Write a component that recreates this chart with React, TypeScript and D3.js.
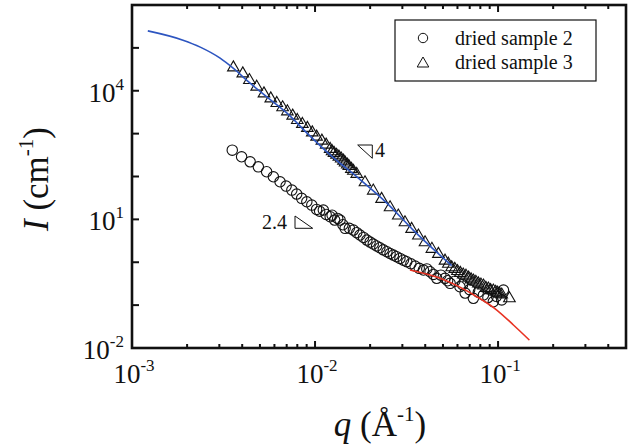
import React from 'react';
import * as d3 from 'd3';

// dried sample 2 (circles)
const sample2Q = [0.00353, 0.00397, 0.00442, 0.0049, 0.00544, 0.00592, 0.00644, 0.00695, 0.00747, 0.00794,
  0.00845, 0.00902, 0.0096, 0.0102, 0.0106, 0.0111, 0.0115,
  0.0121, 0.0124, 0.0128, 0.0133, 0.0137, 0.0142, 0.0146, 0.0154, 0.0162, 0.0169,
  0.0176, 0.0184, 0.0192, 0.02, 0.0208, 0.0217, 0.0226, 0.0236, 0.0247, 0.0257,
  0.0268, 0.0279, 0.0291, 0.0304, 0.0317, 0.0334, 0.0352, 0.0371, 0.0391, 0.0408,
  0.0425, 0.0443, 0.0462, 0.0487, 0.0513, 0.053, 0.0547, 0.058, 0.0619, 0.064,
  0.0661, 0.07, 0.0733, 0.078, 0.0832, 0.088, 0.0942, 0.098, 0.1047, 0.107];
const sample2I = [412, 288, 220, 168, 129, 98.4, 75.2, 59.7, 48.2, 38.9,
  30.9, 25.7, 21.5, 17.1, 15.5, 16.5, 13,
  11.5, 12.5, 9.63, 10.5, 9.63, 7.5, 6.17, 6.2, 5.63, 4.9,
  4.31, 3.8, 3.29, 2.95, 2.66, 2.4, 2.18, 1.95, 1.76, 1.6,
  1.47, 1.35, 1.23, 1.12, 1.03, 0.92, 0.815, 0.72, 0.658, 0.7,
  0.601, 0.52, 0.422, 0.5, 0.422, 0.37, 0.322, 0.36, 0.268, 0.3,
  0.191, 0.23, 0.144, 0.2, 0.172, 0.15, 0.12, 0.16, 0.132, 0.225];

// dried sample 3 (triangles)
const sample3Q = [0.00358, 0.00403, 0.00438, 0.0048, 0.00526, 0.00573, 0.00618, 0.00665, 0.00706, 0.00755,
  0.008, 0.00853, 0.00908, 0.00966, 0.0102, 0.0109, 0.0115, 0.0121, 0.0124, 0.0127, 0.0131, 0.0135, 0.0139,
  0.0143, 0.0146, 0.015, 0.0153, 0.0158, 0.0162,
  0.0169, 0.01875, 0.0208, 0.0231, 0.0257, 0.0285, 0.031, 0.0337, 0.0367, 0.0399, 0.0435, 0.0472, 0.0513,
  0.0535, 0.0558, 0.058, 0.06, 0.0622, 0.0645, 0.0668, 0.069, 0.0712, 0.0733, 0.0756, 0.078, 0.0806,
  0.0832, 0.0858, 0.0885, 0.091, 0.0942, 0.097, 0.0995, 0.102, 0.1047, 0.1154];
const sample3I = [36000, 26100, 18300, 12800, 8930, 6830, 5340, 4220, 3400, 2700,
  2140, 1730, 1400, 1100, 875, 705, 569, 452, 400, 365, 330, 299, 270,
  241, 218, 195, 180, 155, 140,
  118, 75.2, 48.2, 30.9, 19.7, 12.6, 8.79, 6.17, 4.31, 3.01, 2.11, 1.61, 1.12,
  0.95, 0.785, 0.72, 0.64, 0.58, 0.531, 0.5, 0.45, 0.41, 0.385, 0.36, 0.33, 0.31,
  0.294, 0.26, 0.25, 0.23, 0.225, 0.21, 0.2, 0.19, 0.182, 0.149];

// fitted curves
const fitBlueQ = [0.00122, 0.0019, 0.00236, 0.00303, 0.00357, 0.00442, 0.00547, 0.00703, 0.00904, 0.0125, 0.017, 0.0247, 0.0344, 0.0558];
const fitBlueI = [249000, 151000, 104000, 57500, 33600, 15000, 7100, 3000, 1030, 283, 96.8, 24, 5.63, 0.83];
const fitRedQ = [0.033, 0.0482, 0.0766, 0.0984, 0.1213, 0.1483];
const fitRedI = [0.658, 0.422, 0.157, 0.0769, 0.0344, 0.0153];

const xLabelExps = [-3, -2, -1];
const yLabelExps = [-2, 1, 4];
const yTickExps = [-2, -1, 0, 1, 2, 3, 4, 5, 6];
const legendLabels = ['dried sample 2', 'dried sample 3'];

const FONT = "'Liberation Serif', 'Times New Roman', Times, 'DejaVu Serif', serif";
const W = 640;
const H = 446;
const left = 132, right = 626, top = 5, bottom = 348;

const x = d3.scaleLog().domain([1e-3, 0.5]).range([left, right]);
const y = d3.scaleLog().domain([1e-2, 1e6]).range([bottom, top]);

const line = d3.line<[number, number]>()
  .x(d => x(d[0]))
  .y(d => y(d[1]))
  .curve(d3.curveMonotoneX);

const tri = (cx: number, cy: number) => `M${cx},${cy - 6}L${cx + 5.8},${cy + 4}L${cx - 5.8},${cy + 4}Z`;
const txt = { fontFamily: FONT };

export default function App() {
  const blue = line(fitBlueQ.map((q, i) => [q, fitBlueI[i]]));
  const red = line(fitRedQ.map((q, i) => [q, fitRedI[i]]));
  const xTicks = x.ticks();

  return (
    <svg width={W} height={H} style={{ position: 'absolute', left: 0, top: 0, background: '#fff', fontFamily: FONT }}>
      {/* data */}
      <g fill="none" stroke="#111" strokeWidth={1.1}>
        {sample2Q.map((q, i) => (
          <circle key={'c' + i} cx={x(q)} cy={y(sample2I[i])} r={5.2} />
        ))}
        {sample3Q.map((q, i) => (
          <path key={'t' + i} d={tri(x(q), y(sample3I[i]))} />
        ))}
      </g>
      <path d={blue || ''} fill="none" stroke="#2d55c0" strokeWidth={1.6} />
      <path d={red || ''} fill="none" stroke="#e83323" strokeWidth={1.6} />

      {/* ticks */}
      <g stroke="#111" strokeWidth={2}>
        {yTickExps.map(e => (
          <line key={'y' + e} x1={left} x2={left + 7} y1={y(Math.pow(10, e))} y2={y(Math.pow(10, e))} />
        ))}
        {xTicks.map((t, i) => {
          const major = Math.abs(Math.log10(t) - Math.round(Math.log10(t))) < 1e-6;
          const len = major ? 7 : 4;
          return (
            <g key={'x' + i}>
              <line x1={x(t)} x2={x(t)} y1={bottom} y2={bottom - len} />
              <line x1={x(t)} x2={x(t)} y1={top} y2={top + len} />
            </g>
          );
        })}
      </g>
      <rect x={left} y={top} width={right - left} height={bottom - top} fill="none" stroke="#111" strokeWidth={2.6} />

      {/* tick labels */}
      <g fill="#111" fontSize={27} style={txt}>
        {yLabelExps.map(e => (
          <text key={'yl' + e} x={124} y={y(Math.pow(10, e)) + 11} textAnchor="end" style={txt}>
            10<tspan fontSize={17} dy={-12}>{e}</tspan>
          </text>
        ))}
        {xLabelExps.map(e => (
          <text key={'xl' + e} x={x(Math.pow(10, e)) + 2} y={383} textAnchor="middle" style={txt}>
            10<tspan fontSize={17} dy={-12}>{e}</tspan>
          </text>
        ))}
      </g>

      {/* axis titles */}
      <text x={380} y={436} fontSize={35} textAnchor="middle" fill="#111" style={txt}>
        <tspan fontStyle="italic">q</tspan> (Å<tspan fontSize={21} dy={-15}>-1</tspan><tspan dy={15}>)</tspan>
      </text>
      <text transform="translate(48,179) rotate(-90)" fontSize={35} textAnchor="middle" fill="#111" style={txt}>
        <tspan fontStyle="italic">I</tspan> (cm<tspan fontSize={21} dy={-15}>-1</tspan><tspan dy={15}>)</tspan>
      </text>

      {/* slope annotations */}
      <path d="M357.7,145L372.3,145L372.3,158.3Z" fill="none" stroke="#111" strokeWidth={1} />
      <text x={375} y={157} fontSize={20} fill="#111" style={txt}>4</text>
      <path d="M295,216L295,228.3L312.7,228.3Z" fill="none" stroke="#111" strokeWidth={1} />
      <text x={287} y={229} fontSize={20} fill="#111" textAnchor="end" style={txt}>2.4</text>

      {/* legend */}
      <rect x={395} y={20} width={201} height={61} fill="#fff" stroke="#111" strokeWidth={1.2} />
      <circle cx={423} cy={38} r={4.7} fill="none" stroke="#111" strokeWidth={1} />
      <path d={tri(423, 63)} fill="none" stroke="#111" strokeWidth={1} />
      {legendLabels.map((l, i) => (
        <text key={l} x={455} y={45 + i * 24} fontSize={20} fill="#111" style={txt}>{l}</text>
      ))}
    </svg>
  );
}
